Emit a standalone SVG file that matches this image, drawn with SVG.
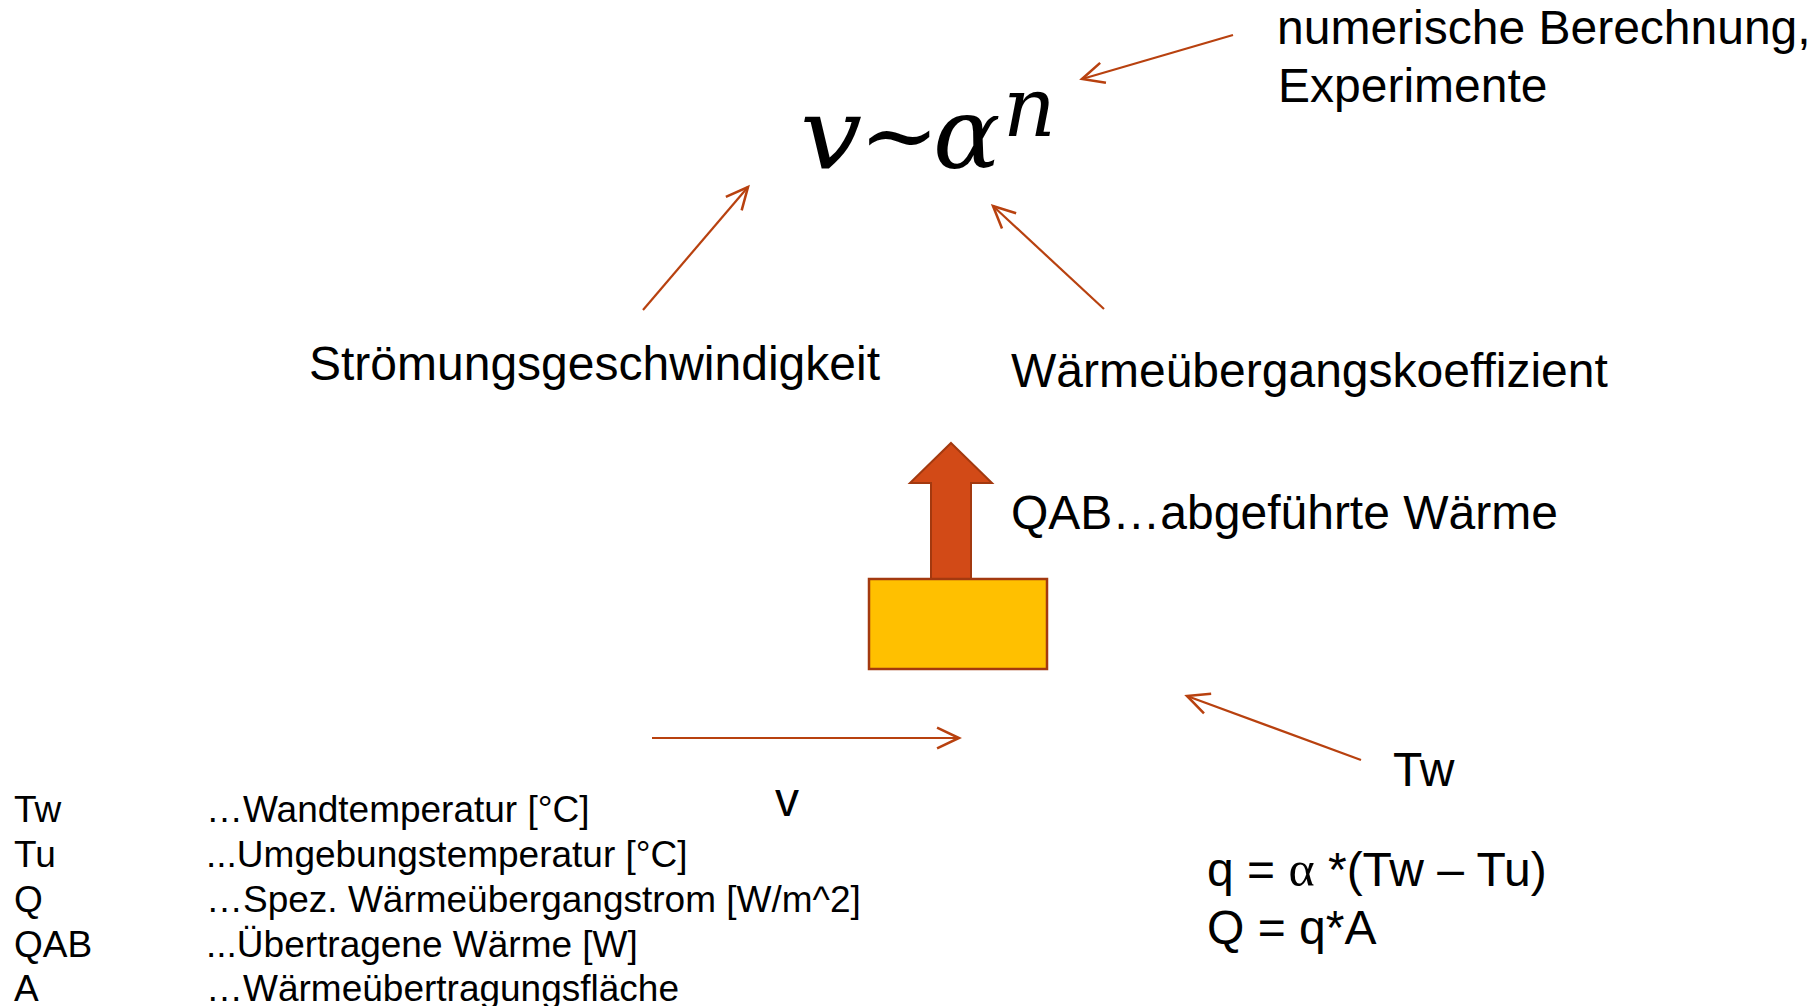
<svg xmlns="http://www.w3.org/2000/svg" width="1820" height="1006" viewBox="0 0 1820 1006">
<defs>
<style>
.t{font-family:"Liberation Sans",Arial,sans-serif;font-size:48px;fill:#000}
.s{font-family:"Liberation Sans",Arial,sans-serif;font-size:37px;fill:#000}
.m{font-family:"DejaVu Serif","Liberation Serif",serif;font-style:italic;fill:#000}
.c{stroke:#B8410F;stroke-width:2.2;fill:none}
</style>
<marker id="ah" markerUnits="userSpaceOnUse" markerWidth="30" markerHeight="30" viewBox="-22 -12 26 24" refX="0" refY="0" orient="auto">
<path d="M -19 -9 L 0 0 L -19 9" fill="none" stroke="#B8410F" stroke-width="2.2"/>
</marker>
</defs>
<rect width="1820" height="1006" fill="#fff"/>

<g id="formula">
<text class="m" x="800" y="168" font-size="100" transform="translate(800 0) scale(1.1 1) translate(-800 0)">v</text>
<text x="859" y="168" font-family="'DejaVu Serif',serif" font-size="96" fill="#000">~</text>
<text class="m" x="933" y="168" font-size="100">α</text>
<text class="m" x="1003" y="136" font-size="82">n</text>
</g>

<g id="note">
<text class="t" x="1277" y="44">numerische Berechnung,</text>
<text class="t" x="1278" y="102">Experimente</text>
</g>

<g id="stroemung"><text class="t" x="309" y="380">Strömungsgeschwindigkeit</text></g>
<g id="waerme"><text class="t" x="1011" y="387">Wärmeübergangskoeffizient</text></g>
<g id="qab"><text class="t" x="1011" y="529">QAB…abgeführte Wärme</text></g>

<g id="body">
<path d="M 951 443 L 992 483 L 971 483 L 971 579 L 931 579 L 931 483 L 910 483 Z" fill="#D24A17" stroke="#A3390F" stroke-width="2"/>
<rect x="869" y="579" width="178" height="90" fill="#FFC000" stroke="#A3390F" stroke-width="2.5"/>
</g>

<g id="v-label"><text class="t" x="775" y="816">v</text></g>
<g id="tw-label"><text class="t" x="1393" y="786">Tw</text></g>

<g id="connectors">
<line class="c" x1="1233" y1="35" x2="1082" y2="79" marker-end="url(#ah)"/>
<line class="c" x1="643" y1="310" x2="748" y2="187" marker-end="url(#ah)"/>
<line class="c" x1="1104" y1="309" x2="993" y2="206" marker-end="url(#ah)"/>
<line class="c" x1="652" y1="738" x2="959" y2="738" marker-end="url(#ah)"/>
<line class="c" x1="1361" y1="760" x2="1187" y2="696" marker-end="url(#ah)"/>
</g>

<g id="legend">
<text class="s" x="14" y="822">Tw</text>
<text class="s" x="206" y="822">…Wandtemperatur [°C]</text>
<text class="s" x="14" y="867">Tu</text>
<text class="s" x="206" y="867">...Umgebungstemperatur [°C]</text>
<text class="s" x="14" y="912">Q</text>
<text class="s" x="206" y="912">…Spez. Wärmeübergangstrom [W/m^2]</text>
<text class="s" x="14" y="957">QAB</text>
<text class="s" x="206" y="957">...Übertragene Wärme [W]</text>
<text class="s" x="14" y="1001">A</text>
<text class="s" x="206" y="1001">…Wärmeübertragungsfläche</text>
</g>

<g id="equations">
<text class="t" x="1207" y="886" font-size="46">q = <tspan font-family="'Liberation Serif',serif" font-size="50">α</tspan> *(Tw – Tu)</text>
<text class="t" x="1207" y="944" font-size="46">Q = q*A</text>
</g>
</svg>
